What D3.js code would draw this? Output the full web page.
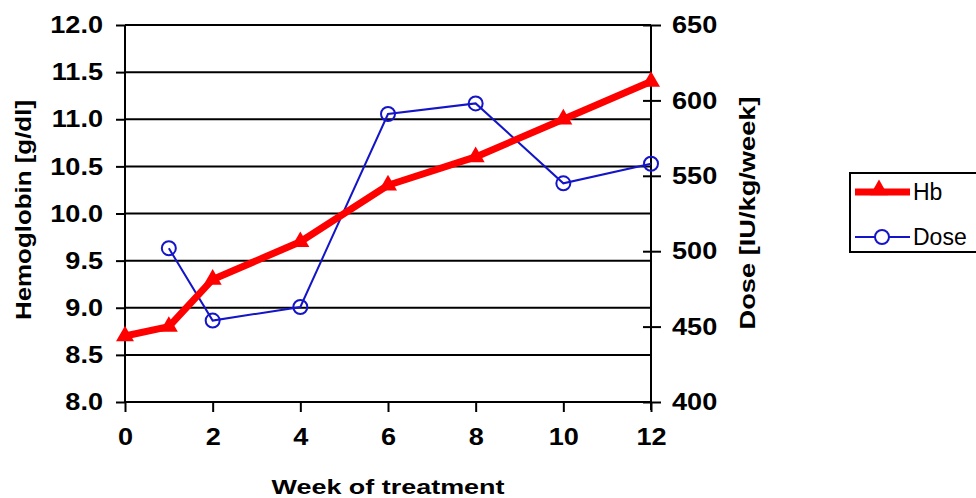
<!DOCTYPE html>
<html>
<head>
<meta charset="utf-8">
<script src="https://cdn.jsdelivr.net/npm/d3@7"></script>
<style>
  body { margin: 0; background: #fff; }
  svg { display: block; font-family: "Liberation Sans", Arial, sans-serif; }
</style>
</head>
<body>
<div id="chart"></div>
<script>
// Data
const hbWeeks = [0, 1, 2, 4, 6, 8, 10, 12];
const hbValues = [8.7, 8.8, 9.3, 9.7, 10.3, 10.6, 11.0, 11.4];
const doseWeeks = [1, 2, 4, 6, 8, 10, 12];
const doseValues = [502, 454, 463, 591, 598, 545, 558];

// Tick labels
const xTicks = [0, 2, 4, 6, 8, 10, 12];
const hbTicks = [8.0, 8.5, 9.0, 9.5, 10.0, 10.5, 11.0, 11.5, 12.0];
const doseTicks = [400, 450, 500, 550, 600, 650];

const HB_COLOUR = "#ff0000";
const DOSE_COLOUR = "#1414c8";

function drawChart() {
  const width = 976;
  const height = 498;
  const plot = { left: 125, right: 651, top: 25, bottom: 402 };
  const stretch = 1.13; // tick labels are a little wider than Liberation Sans

  const svg = d3
    .select("#chart")
    .append("svg")
    .attr("width", width)
    .attr("height", height);

  // Scales
  const xScale = d3.scaleLinear().domain([0, 12]).range([plot.left, plot.right]);
  const yLeft = d3.scaleLinear().domain([8, 12]).range([plot.bottom, plot.top]);
  const yRight = d3.scaleLinear().domain([400, 650]).range([plot.bottom, plot.top]);

  // Gridlines at the hemoglobin ticks
  svg
    .append("g")
    .selectAll("line")
    .data(hbTicks)
    .enter()
    .append("line")
    .attr("x1", plot.left)
    .attr("x2", plot.right)
    .attr("y1", (d) => yLeft(d))
    .attr("y2", (d) => yLeft(d))
    .attr("stroke", "#000")
    .attr("stroke-width", 2);

  // Left axis
  const leftAxis = svg
    .append("g")
    .attr("transform", `translate(${plot.left},0)`)
    .call(
      d3.axisLeft(yLeft).tickValues(hbTicks).tickSize(9).tickPadding(13)
        .tickFormat(d3.format(".1f"))
    );

  // Right axis (ticks cross the axis line)
  const rightAxis = svg
    .append("g")
    .attr("transform", `translate(${plot.right},0)`)
    .call(d3.axisRight(yRight).tickValues(doseTicks).tickSize(10).tickPadding(11));
  rightAxis.selectAll(".tick line").attr("x1", -8);

  // Bottom axis
  const bottomAxis = svg
    .append("g")
    .attr("transform", `translate(0,${plot.bottom})`)
    .call(d3.axisBottom(xScale).tickValues(xTicks).tickSize(10).tickPadding(16));

  [leftAxis, rightAxis, bottomAxis].forEach((ax) => {
    ax.select(".domain").remove();
    ax.selectAll(".tick line").attr("stroke", "#000").attr("stroke-width", 2);
    ax.selectAll(".tick text")
      .attr("fill", "#000")
      .style("font-size", "24px")
      .style("font-weight", "bold")
      .attr("x", function () {
        return +d3.select(this).attr("x") / stretch;
      })
      .attr("transform", `scale(${stretch},1)`);
  });

  // Axis lines
  svg.append("line")
    .attr("x1", plot.left).attr("x2", plot.left)
    .attr("y1", plot.top).attr("y2", plot.bottom)
    .attr("stroke", "#000").attr("stroke-width", 2);
  svg.append("line")
    .attr("x1", plot.right).attr("x2", plot.right)
    .attr("y1", plot.top).attr("y2", plot.bottom + 8)
    .attr("stroke", "#000").attr("stroke-width", 2);
  svg.append("line")
    .attr("x1", plot.left).attr("x2", plot.right)
    .attr("y1", plot.bottom).attr("y2", plot.bottom)
    .attr("stroke", "#000").attr("stroke-width", 2);

  // Axis titles
  svg.append("text")
    .attr("transform", "translate(31,210) rotate(-90)")
    .attr("text-anchor", "middle")
    .attr("textLength", 220)
    .attr("lengthAdjust", "spacingAndGlyphs")
    .style("font-size", "22px")
    .style("font-weight", "bold")
    .text("Hemoglobin [g/dl]");

  svg.append("text")
    .attr("transform", "translate(755,213) rotate(-90)")
    .attr("text-anchor", "middle")
    .attr("textLength", 233)
    .attr("lengthAdjust", "spacingAndGlyphs")
    .style("font-size", "22px")
    .style("font-weight", "bold")
    .text("Dose [IU/kg/week]");

  svg.append("text")
    .attr("x", 388)
    .attr("y", 494)
    .attr("text-anchor", "middle")
    .attr("textLength", 233)
    .attr("lengthAdjust", "spacingAndGlyphs")
    .style("font-size", "21px")
    .style("font-weight", "bold")
    .text("Week of treatment");

  // Dose series
  const doseData = doseWeeks.map((w, i) => ({ week: w, value: doseValues[i] }));
  svg.append("path")
    .datum(doseData)
    .attr("fill", "none")
    .attr("stroke", DOSE_COLOUR)
    .attr("stroke-width", 2)
    .attr("d", d3.line().x((d) => xScale(d.week)).y((d) => yRight(d.value)));
  svg.append("g")
    .selectAll("circle")
    .data(doseData)
    .enter()
    .append("circle")
    .attr("cx", (d) => xScale(d.week))
    .attr("cy", (d) => yRight(d.value))
    .attr("r", 7)
    .attr("fill", "none")
    .attr("stroke", DOSE_COLOUR)
    .attr("stroke-width", 2);

  // Hb series
  const hbData = hbWeeks.map((w, i) => ({ week: w, value: hbValues[i] }));
  svg.append("path")
    .datum(hbData)
    .attr("fill", "none")
    .attr("stroke", HB_COLOUR)
    .attr("stroke-width", 7)
    .attr("stroke-linejoin", "round")
    .attr("d", d3.line().x((d) => xScale(d.week)).y((d) => yLeft(d.value)));
  const triangle = d3.symbol().type(d3.symbolTriangle).size(140);
  svg.append("g")
    .selectAll("path")
    .data(hbData)
    .enter()
    .append("path")
    .attr("transform", (d) => `translate(${xScale(d.week)},${yLeft(d.value)})`)
    .attr("d", triangle)
    .attr("fill", HB_COLOUR);

  // Legend
  const legend = svg.append("g");
  legend.append("rect")
    .attr("x", 850).attr("y", 173)
    .attr("width", 135).attr("height", 79)
    .attr("fill", "#fff")
    .attr("stroke", "#000")
    .attr("stroke-width", 2);
  legend.append("line")
    .attr("x1", 855).attr("x2", 910).attr("y1", 192).attr("y2", 192)
    .attr("stroke", HB_COLOUR).attr("stroke-width", 7);
  legend.append("path")
    .attr("transform", "translate(879,190)")
    .attr("d", triangle)
    .attr("fill", HB_COLOUR);
  legend.append("text")
    .attr("x", 913).attr("y", 200)
    .style("font-size", "23px")
    .text("Hb");
  legend.append("line")
    .attr("x1", 855).attr("x2", 910).attr("y1", 237).attr("y2", 237)
    .attr("stroke", DOSE_COLOUR).attr("stroke-width", 2);
  legend.append("circle")
    .attr("cx", 882).attr("cy", 237).attr("r", 7)
    .attr("fill", "#fff")
    .attr("stroke", DOSE_COLOUR).attr("stroke-width", 2);
  legend.append("text")
    .attr("x", 913).attr("y", 245)
    .style("font-size", "23px")
    .text("Dose");
}

drawChart();
</script>
</body>
</html>
